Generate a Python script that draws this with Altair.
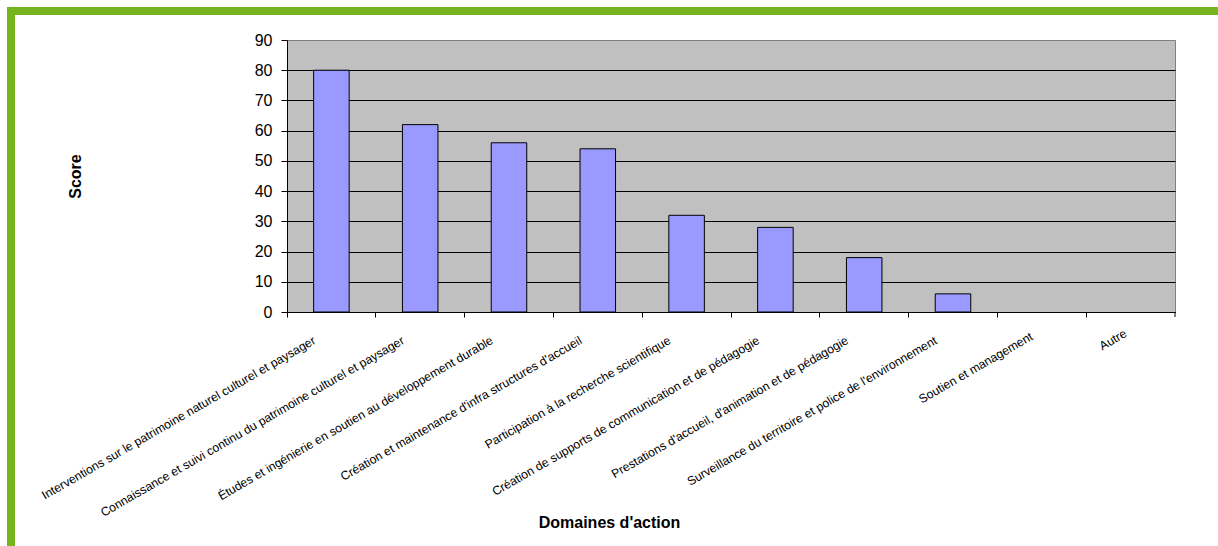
import altair as alt
import pandas as pd

# Domaines d'action and their scores
categories = [
    "Interventions sur le patrimoine naturel culturel et paysager",
    "Connaissance et suivi continu du patrimoine culturel et paysager",
    "Études et ingénierie en soutien au développement durable",
    "Création et maintenance d'infra structures d'accueil",
    "Participation à la recherche scientifique",
    "Création de supports de communication et de pédagogie",
    "Prestations d'accueil, d'animation et de pédagogie",
    "Surveillance du territoire et police de l'environnement",
    "Soutien et management",
    "Autre",
]
scores = [80, 62, 56, 54, 32, 28, 18, 6, 0, 0]
y_ticks = [0, 10, 20, 30, 40, 50, 60, 70, 80, 90]

df = pd.DataFrame({"domaine": categories, "score": scores})

W, H = 888, 272
FONT = "Liberation Sans"
GREEN = "#78B41F"

# rotated labels sit a little closer to the tick when they are short
label_offset = {
    "condition": [
        {"test": "length(datum.label) < 10", "value": -5},
        {"test": "length(datum.label) < 30", "value": -10},
    ],
    "value": -17,
}
label_padding = {
    "condition": [
        {"test": "length(datum.label) < 10", "value": 15},
        {"test": "length(datum.label) < 30", "value": 18},
    ],
    "value": 22,
}

bars = alt.Chart(df).mark_bar(
    width=alt.RelativeBandSize(0.4),
    fill="#9999FF",
    stroke="black",
    strokeWidth=1,
).encode(
    x=alt.X(
        "domaine:N",
        sort=None,
        scale=alt.Scale(paddingInner=0, paddingOuter=0),
        axis=alt.Axis(
            title="Domaines d'action",
            titleFont=FONT,
            titleFontSize=16,
            titleFontWeight="bold",
            titleColor="black",
            titleX=322,
            titleY=210,
            titleAlign="center",
            titleBaseline="middle",
            labelAngle=-30,
            labelAlign="right",
            labelBaseline="middle",
            labelFont=FONT,
            labelFontSize=12.2,
            labelColor="black",
            labelLimit=600,
            labelOverlap=False,
            labelPadding=label_padding,
            labelOffset=label_offset,
            bandPosition=0,
            tickSize=5,
            tickColor="black",
            domainColor="black",
            grid=False,
        ),
    ),
    y=alt.Y(
        "score:Q",
        scale=alt.Scale(domain=[0, 90], nice=False),
        axis=alt.Axis(
            values=y_ticks,
            title="Score",
            titleFont=FONT,
            titleFontSize=16,
            titleFontWeight="bold",
            titleColor="black",
            titleX=-212,
            titleY=136,
            titleAngle=-90,
            titleAlign="center",
            titleBaseline="middle",
            labelFont=FONT,
            labelFontSize=16,
            labelColor="black",
            labelPadding=9,
            tickSize=6,
            tickColor="black",
            domainColor="black",
            grid=True,
            gridColor=alt.condition("datum.value >= 90", alt.value("#808080"), alt.value("black")),
            gridWidth=1,
        ),
    ),
    strokeOpacity=alt.condition(alt.datum.score > 0, alt.value(1), alt.value(0)),
)

one = pd.DataFrame({"k": [0]})

# closing tick at the right end of the category axis
end_tick = alt.Chart(one).mark_rule(color="black", strokeWidth=1).encode(
    x=alt.value(W), y=alt.value(H), y2=alt.value(H + 5)
)

# green frame along the left and top edges
frame_left = alt.Chart(one).mark_rule(color=GREEN, strokeWidth=8).encode(
    x=alt.value(-276), y=alt.value(-33), y2=alt.value(506)
)
frame_top = alt.Chart(one).mark_rule(color=GREEN, strokeWidth=8).encode(
    x=alt.value(-280), x2=alt.value(931), y=alt.value(-29)
)

chart = alt.layer(bars, end_tick, frame_left, frame_top).properties(
    width=W,
    height=H,
    autosize="none",
    padding={"left": 287, "top": 40, "right": 43, "bottom": 234},
    background="white",
).configure_view(
    fill="#C0C0C0",
    stroke="#808080",
    strokeWidth=1,
)

chart.save("out.html", embed_options={"renderer": "svg", "actions": False})
